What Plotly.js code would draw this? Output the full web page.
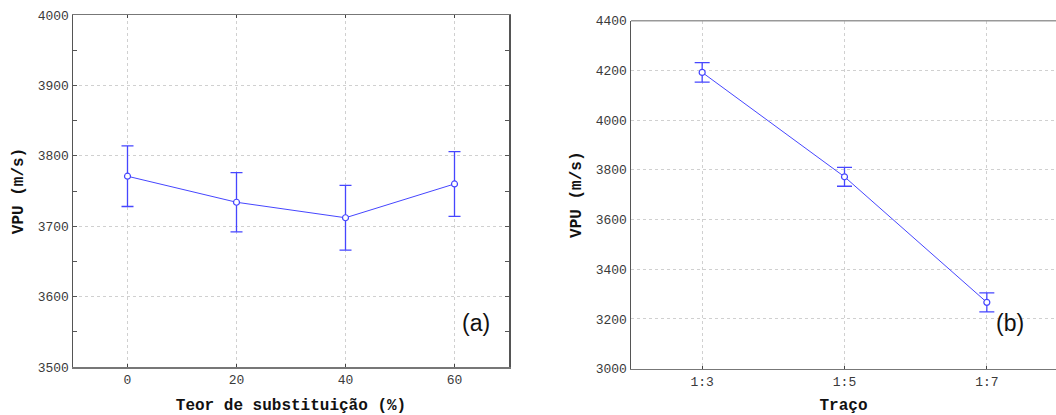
<!DOCTYPE html>
<html>
<head>
<meta charset="utf-8">
<script src="https://cdn.plot.ly/plotly-3.0.1.min.js"></script>
<style>html,body{margin:0;padding:0;background:#fff;}#chart{width:1056px;height:415px;}</style>
</head>
<body>
<div id="chart"></div>
<script>
// Panel (a)
const teor = [0, 20, 40, 60];
const vpuA = [3771, 3734, 3712, 3760];
const errA = [43, 42, 46, 46];
// Panel (b)
const traco = ['1:3', '1:5', '1:7'];
const vpuB = [4192, 3772, 3267];
const errB = [39, 38, 38];

const blue = '#4646ff';
const mono = '"Liberation Mono", "Courier New", monospace';

const traceA = {
  x: teor, y: vpuA, xaxis: 'x', yaxis: 'y', type: 'scatter', mode: 'lines+markers',
  line: {color: blue, width: 1},
  marker: {symbol: 'circle', size: 6, color: '#ffffff', line: {color: blue, width: 1.2}},
  error_y: {type: 'data', array: errA, visible: true, color: blue, thickness: 1.3, width: 6},
  showlegend: false, hoverinfo: 'x+y'
};
const traceB = {
  x: traco, y: vpuB, xaxis: 'x2', yaxis: 'y2', type: 'scatter', mode: 'lines+markers',
  line: {color: blue, width: 1},
  marker: {symbol: 'circle', size: 6, color: '#ffffff', line: {color: blue, width: 1.2}},
  error_y: {type: 'data', array: errB, visible: true, color: blue, thickness: 1.3, width: 7.5},
  showlegend: false, hoverinfo: 'x+y'
};

const tickFont = {family: mono, size: 13, color: '#3a3a3a'};
const titleFont = {family: mono, size: 16, color: '#111111', weight: 'bold'};
const grid = {showgrid: true, gridcolor: '#d0d0d0', griddash: 'dot', gridwidth: 1};

const layout = {
  width: 1056, height: 415,
  margin: {l: 0, r: 0, t: 0, b: 0},
  paper_bgcolor: '#ffffff', plot_bgcolor: '#ffffff',
  xaxis: Object.assign({
    domain: [73/1056, 509/1056], anchor: 'y', range: [-10, 70],
    tickvals: teor, ticktext: teor.map(String),
    showline: true, linecolor: '#777777', linewidth: 1.5, mirror: 'ticks',
    ticks: 'inside', ticklen: 3, tickcolor: '#444444',
    zeroline: false, tickfont: tickFont,
    title: {text: 'Teor de substituição (%)', font: titleFont, standoff: 11}
  }, grid),
  yaxis: Object.assign({
    domain: [1 - 367/415, 1 - 15/415], anchor: 'x', range: [3500, 4000],
    dtick: 100, tick0: 3500,
    showline: true, linecolor: '#555555', linewidth: 1.5, mirror: 'ticks',
    ticks: 'inside', ticklen: 4, tickcolor: '#555555',
    minor: {dtick: 50, ticks: 'inside', ticklen: 4, tickcolor: '#555555', showgrid: false},
    zeroline: false, tickfont: tickFont,
    title: {text: 'VPU (m/s)', font: titleFont, standoff: 10}
  }, grid),
  xaxis2: Object.assign({
    domain: [631/1056, 1], anchor: 'y2', type: 'category', range: [-0.5, 2.486],
    showline: true, linecolor: '#777777', linewidth: 1.5, mirror: false,
    ticks: 'inside', ticklen: 3, tickcolor: '#444444',
    zeroline: false, tickfont: tickFont,
    title: {text: 'Traço', font: titleFont, standoff: 11}
  }, grid),
  yaxis2: Object.assign({
    domain: [1 - 368.7/415, 1 - 20.7/415], anchor: 'x2', range: [3000, 4400],
    dtick: 200, tick0: 3000,
    showline: true, linecolor: '#555555', linewidth: 1.5, mirror: false,
    ticks: '', zeroline: false, tickfont: tickFont,
    title: {text: 'VPU (m/s)', font: titleFont, standoff: 10}
  }, grid),
  shapes: [
    {type: 'line', xref: 'x2 domain', yref: 'y2 domain', x0: 0, x1: 1, y0: 1, y1: 1,
     line: {color: '#999999', width: 1.5}}
  ],
  annotations: [
    {text: '(a)', xref: 'paper', yref: 'paper', x: 476/1056, y: 1 - 338/415,
     showarrow: false, font: {family: '"Liberation Sans", Arial, sans-serif', size: 23, color: '#111111'}},
    {text: '(b)', xref: 'paper', yref: 'paper', x: 1026/1056, y: 1 - 338/415,
     showarrow: false, font: {family: '"Liberation Sans", Arial, sans-serif', size: 23, color: '#111111'}}
  ]
};

Plotly.newPlot('chart', [traceA, traceB], layout, {displayModeBar: false, staticPlot: true});
</script>
</body>
</html>
